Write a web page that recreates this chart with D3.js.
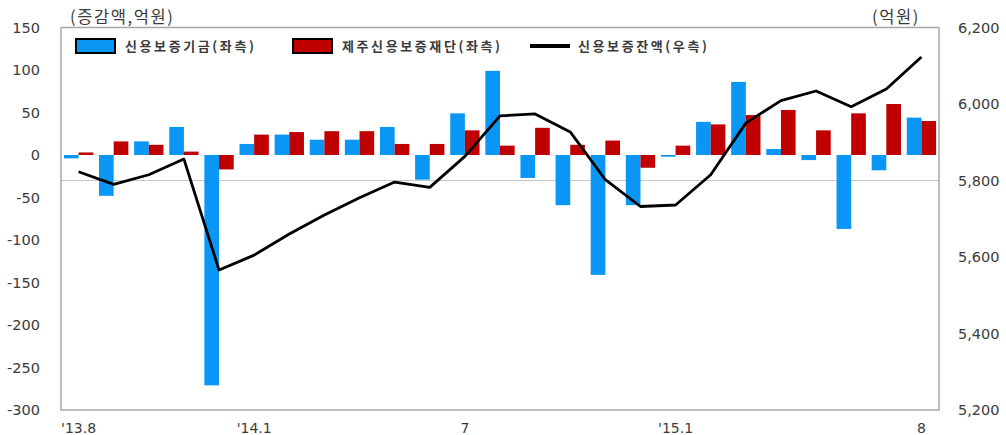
<!DOCTYPE html>
<html>
<head>
<meta charset="utf-8">
<script src="https://cdn.jsdelivr.net/npm/d3@7"></script>
<style>
  html, body { margin: 0; padding: 0; background: #fff; }
  svg { display: block; }
</style>
</head>
<body>
<svg id="chart" width="1006" height="435"></svg>
<script>
// Monthly periods, '13.8 through '15.8
const months = ["'13.8","13.9","13.10","13.11","13.12","'14.1","14.2","14.3","14.4","14.5","14.6",
  "7","14.8","14.9","14.10","14.11","14.12","'15.1","15.2","15.3","15.4","15.5","15.6","15.7","8"];
const shownLabels = ["'13.8", "'14.1", "7", "'15.1", "8"];

// Change in guarantees (left axis, 억원)
const fundChange = [-4, -48, 16, 33, -271, 13, 24, 18, 18, 33, -29, 49, 99, -27, -59, -141, -59, -2, 39, 86, 7, -6, -87, -18, 44];
const jejuChange = [3, 16, 12, 4, -17, 24, 27, 28, 28, 13, 13, 29, 11, 32, 12, 17, -15, 11, 36, 47, 53, 29, 49, 60, 40];
// Outstanding guarantees (right axis, 억원)
const balance = [5823, 5790, 5815, 5856, 5566, 5605, 5660, 5710, 5755, 5796, 5782, 5863, 5969, 5974, 5927,
  5802, 5732, 5736, 5815, 5950, 6009, 6034, 5993, 6039, 6123];

const leftTicks = [150, 100, 50, 0, -50, -100, -150, -200, -250, -300];
const rightTicks = [6200, 6000, 5800, 5600, 5400, 5200];

const seriesNames = ["신용보증기금(좌측)", "제주신용보증재단(좌측)", "신용보증잔액(우측)"];
const colors = { fund: "#0A96F5", jeju: "#C00000", line: "#000000" };

const svg = d3.select("#chart");
const plot = { left: 61, top: 27.5, right: 939, bottom: 410 };

const x = d3.scaleBand().domain(months).range([plot.left, plot.right]).paddingInner(0.165).paddingOuter(0.0825);
const xc = d3.scaleBand().domain(months).range([plot.left, plot.right]);
const yL = d3.scaleLinear().domain([-300, 150]).range([plot.bottom, plot.top]);
const yR = d3.scaleLinear().domain([5200, 6200]).range([plot.bottom, plot.top]);

const textColor = "#3a3a3a";
const numFont = "'DejaVu Sans', sans-serif";
const krFont = "'Noto Sans CJK KR', sans-serif";

// Horizontal gridline on the right axis
svg.append("line")
  .attr("x1", plot.left).attr("x2", plot.right)
  .attr("y1", yR(5800)).attr("y2", yR(5800))
  .attr("stroke", "#c8c8c8").attr("stroke-width", 1);

// Bars
const bw = x.bandwidth() / 2;
const gBars = svg.append("g");
gBars.selectAll("rect.fund").data(fundChange).join("rect")
  .attr("class", "fund")
  .attr("x", (d, i) => x(months[i]))
  .attr("width", bw)
  .attr("y", d => yL(Math.max(0, d)))
  .attr("height", d => Math.abs(yL(d) - yL(0)))
  .attr("fill", colors.fund);
gBars.selectAll("rect.jeju").data(jejuChange).join("rect")
  .attr("class", "jeju")
  .attr("x", (d, i) => x(months[i]) + bw)
  .attr("width", bw)
  .attr("y", d => yL(Math.max(0, d)))
  .attr("height", d => Math.abs(yL(d) - yL(0)))
  .attr("fill", colors.jeju);

// Balance line
const line = d3.line()
  .x((d, i) => xc(months[i]) + xc.bandwidth() / 2)
  .y(d => yR(d));
svg.append("path").datum(balance)
  .attr("d", line)
  .attr("fill", "none")
  .attr("stroke", colors.line)
  .attr("stroke-width", 2.8)
  .attr("stroke-linejoin", "round");

// Plot frame
svg.append("rect")
  .attr("x", plot.left).attr("y", plot.top)
  .attr("width", plot.right - plot.left).attr("height", plot.bottom - plot.top)
  .attr("fill", "none").attr("stroke", "#a6a6a6").attr("stroke-width", 1.5);

// Left axis labels (plain hyphen for negatives)
svg.append("g").selectAll("text").data(leftTicks).join("text")
  .attr("x", 40).attr("y", d => yL(d))
  .attr("dy", "0.36em")
  .attr("text-anchor", "end")
  .attr("font-family", numFont).attr("font-size", 14.5)
  .attr("fill", textColor)
  .text(d => String(d));

// Right axis labels
svg.append("g").selectAll("text").data(rightTicks).join("text")
  .attr("x", 958).attr("y", d => yR(d))
  .attr("dy", "0.36em")
  .attr("text-anchor", "start")
  .attr("font-family", numFont).attr("font-size", 14.5)
  .attr("fill", textColor)
  .text(d => d3.format(",")(d));

// Category labels
svg.append("g").selectAll("text").data(shownLabels).join("text")
  .attr("x", d => xc(d) + xc.bandwidth() / 2)
  .attr("y", 428)
  .attr("dy", "0.36em")
  .attr("text-anchor", "middle")
  .attr("font-family", numFont).attr("font-size", 14)
  .attr("fill", textColor)
  .text(d => d);

// Unit captions
svg.append("text").attr("x", 70).attr("y", 17).attr("dy", "0.36em")
  .attr("font-family", krFont).attr("font-size", 16.5).attr("letter-spacing", 1.6)
  .attr("fill", textColor)
  .text("(증감액,억원)");
svg.append("text").attr("x", 872).attr("y", 17).attr("dy", "0.36em")
  .attr("font-family", krFont).attr("font-size", 16.5).attr("letter-spacing", 1.6)
  .attr("fill", textColor)
  .text("(억원)");

// Legend
const legend = svg.append("g");
const legY = 46;
const legText = (xPos, label) => legend.append("text").attr("x", xPos).attr("y", legY).attr("dy", "0.36em")
  .attr("font-family", krFont).attr("font-size", 13).attr("font-weight", 700)
  .attr("letter-spacing", 2.6).attr("fill", textColor).text(label);
legend.append("rect").attr("x", 76).attr("y", legY - 7).attr("width", 39).attr("height", 14)
  .attr("fill", colors.fund).attr("stroke", "#000").attr("stroke-width", 2);
legText(125, seriesNames[0]);
legend.append("rect").attr("x", 293).attr("y", legY - 7).attr("width", 39).attr("height", 14)
  .attr("fill", colors.jeju).attr("stroke", "#000").attr("stroke-width", 2);
legText(342, seriesNames[1]);
legend.append("line").attr("x1", 530).attr("x2", 570).attr("y1", legY).attr("y2", legY)
  .attr("stroke", colors.line).attr("stroke-width", 4);
legText(578, seriesNames[2]);
</script>
</body>
</html>
